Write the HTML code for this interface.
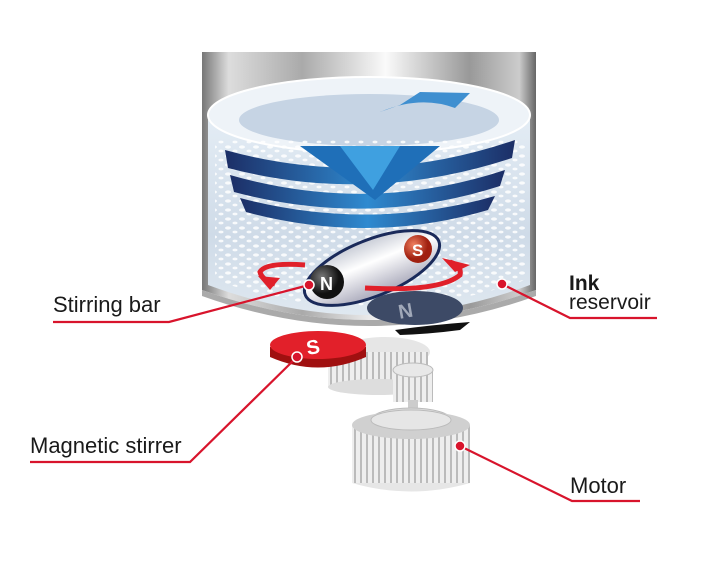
<!DOCTYPE html>
<html><head><meta charset="utf-8"><style>
html,body{margin:0;padding:0;background:#fff;}
svg{display:block;}
text{font-family:"Liberation Sans",Arial,sans-serif;fill:#1a1a1a;}
</style></head><body>
<svg width="701" height="569" viewBox="0 0 701 569" xmlns="http://www.w3.org/2000/svg">
<defs>
<linearGradient id="wall" x1="0" x2="1" y1="0" y2="0">
<stop offset="0" stop-color="#777"/><stop offset="0.08" stop-color="#ddd"/><stop offset="0.3" stop-color="#aaa"/><stop offset="0.55" stop-color="#fafafa"/><stop offset="0.8" stop-color="#999"/><stop offset="0.95" stop-color="#ccc"/><stop offset="1" stop-color="#666"/>
</linearGradient>
<linearGradient id="liq" x1="0" x2="0" y1="0" y2="1">
<stop offset="0" stop-color="#e4edf5"/><stop offset="0.6" stop-color="#cfdbe8"/><stop offset="1" stop-color="#dfe8f0"/>
</linearGradient>
<linearGradient id="swirl" x1="0" x2="1">
<stop offset="0" stop-color="#1c2e66"/><stop offset="0.5" stop-color="#2f8ad0"/><stop offset="1" stop-color="#1c2e66"/>
</linearGradient>
<linearGradient id="bar" x1="0" x2="0" y1="0" y2="1">
<stop offset="0" stop-color="#c8ccd6"/><stop offset="0.4" stop-color="#fff"/><stop offset="1" stop-color="#aab"/>
</linearGradient>
<radialGradient id="nball" cx="0.35" cy="0.35"><stop offset="0" stop-color="#777"/><stop offset="1" stop-color="#111"/></radialGradient>
<radialGradient id="sball" cx="0.35" cy="0.35"><stop offset="0" stop-color="#f08060"/><stop offset="1" stop-color="#a02010"/></radialGradient>
<pattern id="dots" width="14" height="9" patternUnits="userSpaceOnUse">
<ellipse cx="4" cy="3" rx="3" ry="1.6" fill="#fff"/><ellipse cx="11" cy="7" rx="2.5" ry="1.4" fill="#fff"/>
</pattern>
<pattern id="ribs" width="6" height="10" patternUnits="userSpaceOnUse">
<rect width="6" height="10" fill="#eee"/><rect x="0" width="2" height="10" fill="#bbb"/>
</pattern>
</defs>

<path d="M202,52 L536,52 L536,290 Q369,350 202,290 Z" fill="url(#wall)"/>
<path d="M208,115 L530,115 L530,285 Q369,345 208,285 Z" fill="url(#liq)"/>
<ellipse cx="369" cy="115" rx="161" ry="38" fill="#eef3f8" stroke="#fff" stroke-width="2"/>
<ellipse cx="369" cy="120" rx="130" ry="26" fill="#c6d4e4"/>
<path d="M215,140 L525,140 L525,280 Q369,335 215,280 Z" fill="url(#dots)" opacity="0.85"/>
<path d="M225,150 Q369,190 515,140 L512,158 Q369,205 228,168 Z" fill="url(#swirl)"/>
<path d="M230,175 Q369,215 505,170 L500,186 Q369,228 234,192 Z" fill="url(#swirl)"/>
<path d="M240,198 Q369,232 495,196 L488,210 Q369,245 246,212 Z" fill="url(#swirl)"/>
<path d="M300,146 L440,146 L375,200 Z" fill="#1f6fb8"/>
<path d="M340,146 L400,146 L373,190 Z" fill="#3fa0e0"/>
<path d="M380,112 Q420,95 455,108 L470,93 L420,92 L400,105 Z" fill="#3f8fd0"/>
<path d="M202,290 Q369,350 536,290 L536,296 Q369,356 202,296 Z" fill="#aaa"/>
<ellipse cx="415" cy="308" rx="48" ry="17" fill="#3d4a66"/>
<text x="398" y="316" font-size="20" font-weight="bold" transform="rotate(-10 415 308)" style="fill:#a0a8b8">N</text>
<path d="M395,330 Q430,325 470,322 L460,330 Q430,334 400,335 Z" fill="#111"/>
<g transform="rotate(-22 372 268)">
<ellipse cx="372" cy="268" rx="72" ry="28" fill="url(#bar)" stroke="#1a2a5a" stroke-width="3"/>
</g>
<circle cx="327" cy="282" r="17" fill="url(#nball)"/>
<text x="320" y="290" font-size="18" font-weight="bold" style="fill:#fff">N</text>
<circle cx="418" cy="249" r="14" fill="url(#sball)"/>
<text x="412" y="256" font-size="17" font-weight="bold" style="fill:#fff">S</text>
<path d="M305,265 Q265,262 260,272 Q262,280 275,284" fill="none" stroke="#e0202a" stroke-width="5"/>
<path d="M258,276 L270,290 L280,278 Z" fill="#e0202a"/>
<path d="M365,288 Q440,292 460,275 Q462,266 450,262" fill="none" stroke="#e0202a" stroke-width="5"/>
<path d="M442,258 L470,265 L455,272 Z" fill="#e0202a"/>
<ellipse cx="385" cy="352" rx="45" ry="15" fill="#e6e6e6"/>
<rect x="328" y="352" width="100" height="35" fill="url(#ribs)"/>
<ellipse cx="378" cy="387" rx="50" ry="8" fill="#ddd"/>
<rect x="393" y="370" width="40" height="32" fill="url(#ribs)"/>
<ellipse cx="413" cy="370" rx="20" ry="7" fill="#e8e8e8" stroke="#bbb"/>
<rect x="408" y="400" width="10" height="20" fill="#ccc"/>
<ellipse cx="411" cy="420" rx="40" ry="12" fill="#ddd" stroke="#bbb"/>
<rect x="352" y="425" width="118" height="58" fill="url(#ribs)"/>
<ellipse cx="411" cy="425" rx="59" ry="14" fill="#d0d0d0"/>
<ellipse cx="411" cy="420" rx="40" ry="10" fill="#e6e6e6" stroke="#bbb"/>
<path d="M352,483 Q411,500 470,483" fill="#e6e6e6"/>
<path d="M270,347 L270,357 Q318,378 366,357 L366,347 Z" fill="#a01010"/>
<ellipse cx="318" cy="345" rx="48" ry="14" fill="#e2202a"/>
<text x="306" y="353" font-size="20" font-weight="bold" style="fill:#fff" transform="rotate(-10 318 345)">S</text>

<g stroke="#d8142c" stroke-width="2.2" fill="none">
<polyline points="53,322 169,322 309,285"/>
<polyline points="502,284 570,318 657,318"/>
<polyline points="30,462 190,462 297,357"/>
<polyline points="460,446 572,501 640,501"/>
</g>
<g fill="#d8142c" stroke="#fff" stroke-width="1.5">
<circle cx="309" cy="285" r="5"/><circle cx="502" cy="284" r="5"/><circle cx="297" cy="357" r="5"/><circle cx="460" cy="446" r="5"/>
</g>
<text x="53" y="312" font-size="22">Stirring bar</text>
<text x="569" y="290" font-size="21" font-weight="bold">Ink</text>
<text x="569" y="309" font-size="21">reservoir</text>
<text x="30" y="453" font-size="22">Magnetic stirrer</text>
<text x="570" y="493" font-size="22">Motor</text>
</svg>
</body></html>
